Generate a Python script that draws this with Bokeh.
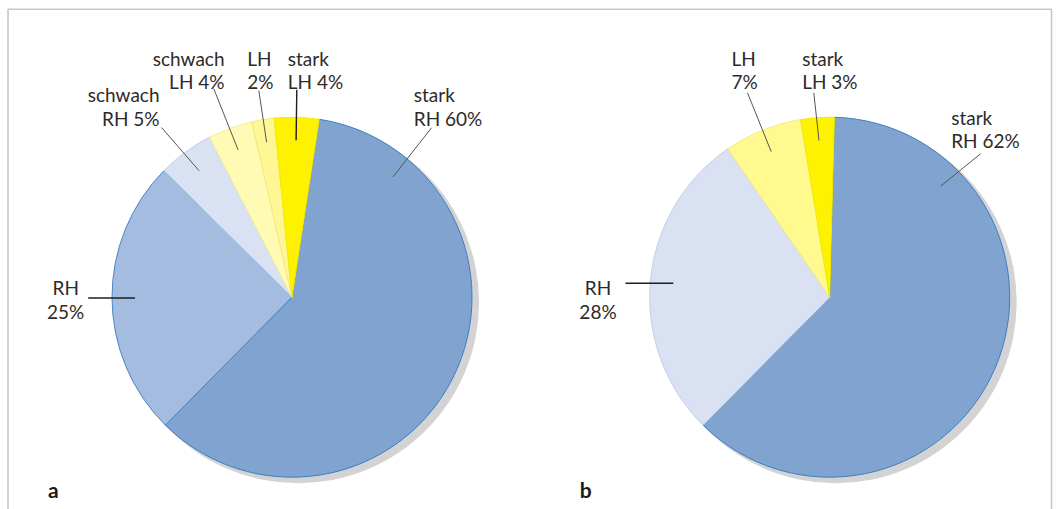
import math
from bokeh.plotting import figure
from bokeh.models import Range1d, ColumnDataSource
from bokeh.core.properties import value
from bokeh.embed import file_html
from bokeh.resources import INLINE

# ---------------- data ----------------
labels_a = ["stark RH", "RH", "schwach RH", "schwach LH", "LH", "stark LH"]
values_a = [60, 25, 5, 4, 2, 4]
texts_a = [["stark", "RH 60%"], ["RH", "25%"], ["schwach", "RH 5%"],
           ["schwach", "LH 4%"], ["LH", "2%"], ["stark", "LH 4%"]]

labels_b = ["stark RH", "RH", "LH", "stark LH"]
values_b = [62, 28, 7, 3]
texts_b = [["stark", "RH 62%"], ["RH", "28%"], ["LH", "7%"], ["stark", "LH 3%"]]

panel_letters = ["a", "b"]

# ---------------- styles ----------------
fill_a = ["#81A3CF", "#A3BCE0", "#D9E1F2", "#FFFBB5", "#FFF796", "#FFF200"]
line_a = ["#3C7EC1", "#4A86C5", "#BCCDE8", "#F3EE9A", "#F3EA7A", "#F5E800"]
fill_b = ["#81A3CF", "#D9E1F2", "#FFF98E", "#FFF200"]
line_b = ["#3C7EC1", "#BFD0EA", "#F3EC80", "#F5E800"]

W, H = 1058, 509
FONT = "Lato"
TXT = "#2e2a28"


def X(xp):
    return xp


def Y(yp):
    return H - yp


R = 180
pies = [
    dict(labels=labels_a, values=values_a, texts=texts_a, fill=fill_a, line=line_a,
         cx=291.5, cy=296.7, start=8.7, letter_x=47.5,
         lay=[(413.3, "left", 94.3, (431, 127.3), 40, 0),
              (65.2, "center", 287.3, (87.7, None), None, 1),
              (159.0, "right", 94.3, (161, 127), None, 0),
              (224.0, "right", 57.7, (213.3, 88.3), None, 0),
              (246.7, "left", 57.7, (258.3, 90), None, 0),
              (287.3, "left", 57.7, (296.3, 89.3), None, 1)]),
    dict(labels=labels_b, values=values_b, texts=texts_b, fill=fill_b, line=line_b,
         cx=829.2, cy=296.7, start=1.5, letter_x=579.3,
         lay=[(950.7, "left", 116.7, (980, 153.3), 45, 0),
              (597.5, "center", 287.3, (625, None), None, 1),
              (731.0, "left", 57.7, (747, 92.3), None, 0),
              (801.7, "left", 57.7, (813.3, 92.3), None, 0)]),
]

p = figure(width=W, height=H, x_range=Range1d(0, W), y_range=Range1d(0, H),
           output_backend="svg", toolbar_location=None, min_border=0)
p.axis.visible = False
p.grid.visible = False
p.outline_line_color = None
p.background_fill_color = "white"
p.border_fill_color = "white"

# frame (left, top, right sides)
p.line([X(7.5), X(7.5), X(1051), X(1051)], [0, Y(8.8), Y(8.8), 0],
       line_color="#c8c8c8", line_width=1.6)

R_LEAD = 157
LINE_H = 23.3

for pie in pies:
    cx, cy = X(pie["cx"]), Y(pie["cy"])
    p.circle(x=[cx + 6], y=[cy - 5], radius=R + 1, fill_color="#d3d3d3", line_color=None)
    total = sum(pie["values"])
    starts, ends, mids = [], [], []
    cum = 0.0
    for v in pie["values"]:
        t1 = pie["start"] + cum / total * 360.0
        t2 = t1 + v / total * 360.0
        cum += v
        starts.append(math.radians(90 - t2))
        ends.append(math.radians(90 - t1))
        mids.append((t1 + t2) / 2.0)
    src = ColumnDataSource(dict(x=[cx] * len(starts), y=[cy] * len(starts),
                                start=starts, end=ends,
                                fill=pie["fill"], line=pie["line"]))
    p.wedge(x="x", y="y", radius=R, start_angle="start", end_angle="end",
            fill_color="fill", line_color="line", line_width=1, source=src)

    for i, (lx, align, by, outer, ang, style) in enumerate(pie["lay"]):
        a = ang if ang is not None else mids[i]
        ix = pie["cx"] + R_LEAD * math.sin(math.radians(a))
        iy = pie["cy"] - R_LEAD * math.cos(math.radians(a))
        ox, oy = outer
        if oy is None:
            oy = iy
        p.line([X(ox), X(ix)], [Y(oy), Y(iy)],
               line_color="#1e1e1e" if style else "#555555",
               line_width=1.4 if style else 1.0)
        lines = pie["texts"][i]
        p.text(x=[X(lx)] * len(lines), y=[Y(by + k * LINE_H) for k in range(len(lines))],
               text=lines, text_align=align, text_baseline="alphabetic",
               text_font=value(FONT), text_font_size="19px", text_color=TXT)

for pie, letter in zip(pies, panel_letters):
    p.text(x=[X(pie["letter_x"])], y=[Y(489.3)], text=[letter], text_align="left",
           text_baseline="alphabetic", text_font=value(FONT), text_font_size="21px",
           text_font_style="bold", text_color="#1a1a1a")

open("out.html", "w").write(file_html(p, INLINE))
